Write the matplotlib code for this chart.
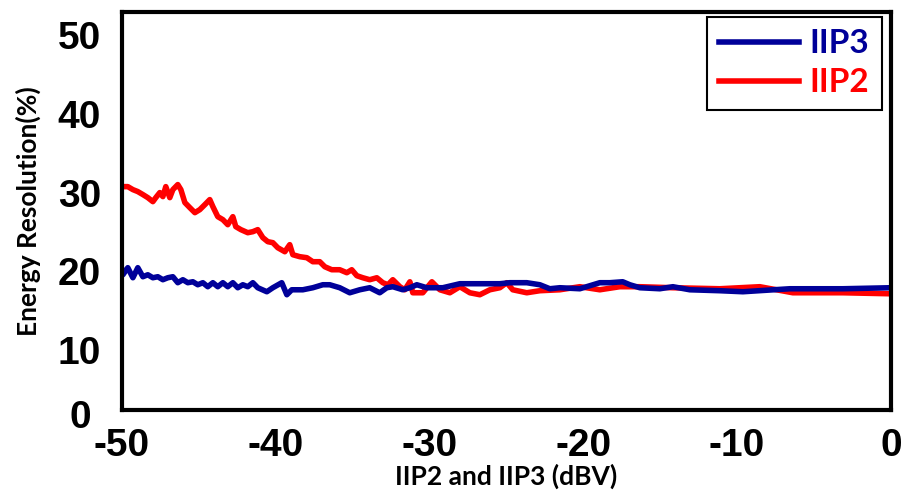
import numpy as np
import matplotlib
matplotlib.use('Agg')
import matplotlib.pyplot as plt

plt.rcParams['axes.unicode_minus'] = False

# data
iip2_x = [-50.0, -49.61, -49.28, -48.96, -48.63, -48.31, -47.98, -47.79, -47.53, -47.33,
          -47.14, -46.88, -46.68, -46.36, -46.16, -45.90, -45.58, -45.25, -44.93, -44.60,
          -44.28, -44.08, -43.76, -43.43, -43.11, -42.78, -42.59, -42.26, -41.81, -41.48,
          -41.16, -40.83, -40.51, -40.18, -39.86, -39.40, -39.08, -38.88, -38.43, -37.97,
          -37.58, -37.13, -36.80, -36.35, -35.83, -35.37, -35.05, -34.72, -34.33, -33.88,
          -33.42, -33.03, -32.70, -32.38, -31.92, -31.60, -31.27, -31.08, -30.43, -29.84,
          -29.32, -28.67, -28.02, -27.37, -26.72, -26.07, -25.42, -24.97, -24.58, -23.67,
          -22.82, -21.52, -20.22, -18.92, -17.62, -16.32, -14.17, -11.12, -8.52, -6.37,
          -3.12, 0.0]
iip2_y = [30.76, 30.76, 30.38, 30.13, 29.75, 29.36, 28.85, 29.36, 30.00, 29.49,
          30.76, 29.36, 30.38, 31.02, 30.38, 28.73, 28.09, 27.45, 27.83, 28.47,
          29.11, 28.22, 26.94, 26.56, 25.92, 26.94, 25.67, 25.29, 24.90, 25.03,
          25.29, 24.27, 23.76, 23.63, 22.99, 22.48, 23.38, 22.10, 21.85, 21.72,
          21.21, 21.21, 20.57, 20.19, 20.19, 19.81, 20.19, 19.43, 19.17, 18.92,
          19.17, 18.54, 18.28, 18.92, 18.03, 17.64, 18.66, 17.26, 17.26, 18.66,
          17.64, 17.26, 18.03, 17.26, 17.01, 17.64, 17.90, 18.54, 17.64, 17.26,
          17.52, 17.64, 18.03, 17.64, 18.03, 18.03, 17.90, 17.77, 18.03, 17.26,
          17.26, 17.13]

iip3_x = [-50.0, -49.93, -49.61, -49.28, -48.96, -48.63, -48.31, -47.98, -47.66, -47.33,
          -47.01, -46.68, -46.36, -46.03, -45.71, -45.38, -45.06, -44.73, -44.41, -44.08,
          -43.76, -43.43, -43.11, -42.78, -42.46, -42.13, -41.81, -41.48, -41.16, -40.57,
          -40.18, -39.60, -39.27, -38.95, -38.23, -37.58, -36.93, -36.48, -35.83, -35.18,
          -34.53, -33.88, -33.23, -32.77, -32.38, -31.73, -31.27, -30.82, -30.17, -29.13,
          -28.02, -26.72, -25.42, -24.77, -23.67, -22.82, -22.17, -21.52, -20.22, -18.92,
          -18.27, -17.43, -16.97, -16.32, -15.02, -14.17, -13.07, -11.12, -9.62, -6.57,
          -3.12, 0.0]
iip3_y = [20.19, 19.55, 20.45, 19.17, 20.45, 19.30, 19.55, 19.17, 19.30, 18.92,
          19.17, 19.30, 18.54, 18.92, 18.54, 18.66, 18.28, 18.54, 18.03, 18.54,
          18.03, 18.54, 18.03, 18.54, 17.90, 18.28, 18.03, 18.54, 17.90, 17.39,
          17.90, 18.54, 17.01, 17.64, 17.64, 17.90, 18.28, 18.28, 17.90, 17.26,
          17.64, 17.90, 17.26, 17.90, 18.03, 17.64, 17.90, 18.28, 17.90, 17.90,
          18.41, 18.41, 18.41, 18.54, 18.54, 18.28, 17.77, 17.90, 17.77, 18.54,
          18.54, 18.66, 18.28, 17.90, 17.77, 18.03, 17.64, 17.52, 17.39, 17.77,
          17.77, 17.90]

x_ticks = [-50, -40, -30, -20, -10, 0]
y_ticks = [10, 20, 30, 40, 50]

tick_font = ['Liberation Sans', 'DejaVu Sans']
label_font = ['Lato', 'DejaVu Sans']
blue = '#000099'
red = '#ff0000'

fig = plt.figure(figsize=(9.09, 4.91), dpi=100)
ax = fig.add_axes([0.134, 0.165, 0.846, 0.811])

ax.plot(iip3_x, iip3_y, color=blue, lw=4, label='IIP3')
ax.plot(iip2_x, iip2_y, color=red, lw=4, label='IIP2', zorder=1.9)

ax.set_xlim(-50, 0)
ax.set_ylim(2.35, 53.0)
ax.set_xticks(x_ticks)
ax.set_yticks(y_ticks)
ax.tick_params(length=0, labelsize=28)
ax.tick_params(axis='y', pad=15)
ax.tick_params(axis='x', pad=13)
for t in ax.get_xticklabels() + ax.get_yticklabels():
    t.set_family(tick_font)
    t.set_fontweight('bold')
# the "0" sits below the axis in the original
ax.text(-0.0546, -0.02, '0', transform=ax.transAxes, ha='center', va='center',
        fontsize=28, fontweight='bold', family=tick_font)

for s in ax.spines.values():
    s.set_linewidth(3)

ax.set_xlabel('IIP2 and IIP3 (dBV)', family=label_font, fontweight='bold',
              fontsize=19, labelpad=0)
ax.set_ylabel('Energy Resolution(%)', family=label_font, fontweight='bold',
              fontsize=19, labelpad=12)

leg = ax.legend(loc='upper right', bbox_to_anchor=(0.988, 0.988), borderaxespad=0,
                fancybox=False, edgecolor='black', framealpha=1,
                prop={'family': label_font, 'weight': 'bold', 'size': 24},
                handlelength=2.4, handletextpad=0.3, labelspacing=0.3,
                borderpad=0.38)
leg.get_frame().set_linewidth(1.5)
for txt, c in zip(leg.get_texts(), [blue, red]):
    txt.set_color(c)

fig.savefig('out.png', dpi=100)
